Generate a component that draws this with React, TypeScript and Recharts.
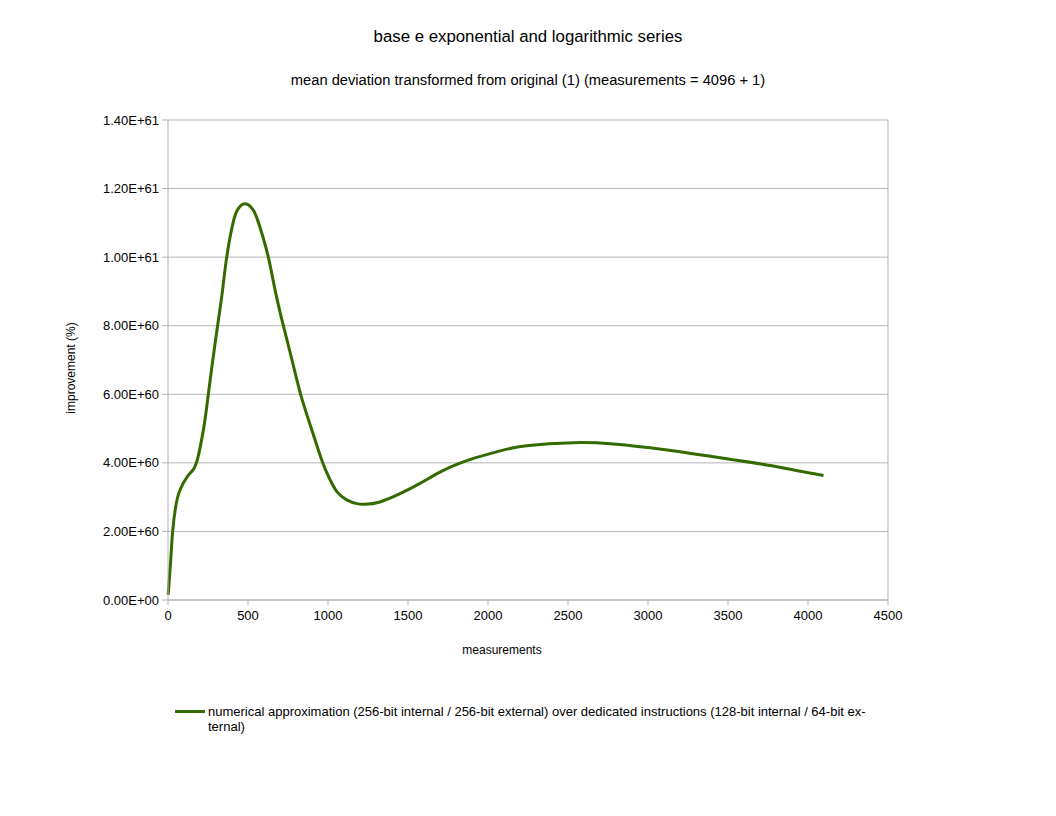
import React from "react";
import { LineChart, Line, XAxis, YAxis, CartesianGrid, ReferenceLine } from "recharts";

const measurements = [1, 17, 29, 48, 75, 121, 160, 185, 210, 231, 252, 280, 310, 340, 367, 408, 440, 481, 533, 575, 627, 671, 721, 775, 829, 896, 967, 1012, 1054, 1117, 1180, 1231, 1325, 1450, 1575, 1700, 1825, 1929, 2075, 2242, 2533, 2783, 3096, 3408, 3742, 4097];
// improvement in units of 1E+60 %
const improvementE60 = [0.15, 1.17, 2.0, 2.72, 3.21, 3.6, 3.82, 4.12, 4.67, 5.25, 6.0, 7.0, 8.0, 9.0, 10.0, 11.03, 11.42, 11.56, 11.37, 10.87, 10.0, 9.0, 8.0, 7.0, 6.0, 5.0, 4.0, 3.52, 3.17, 2.92, 2.81, 2.79, 2.86, 3.1, 3.4, 3.73, 3.99, 4.16, 4.35, 4.5, 4.59, 4.55, 4.39, 4.18, 3.94, 3.63];
const xTicks = [0, 500, 1000, 1500, 2000, 2500, 3000, 3500, 4000, 4500];
const yTicks = [0, 2, 4, 6, 8, 10, 12, 14];

const seriesName = "numerical approximation (256-bit internal / 256-bit external) over dedicated instructions (128-bit internal / 64-bit ex-";
const seriesName2 = "ternal)";

const data = measurements.map((m, i) => ({ m, v: improvementE60[i] }));

const fmtY = (v: number) => (v === 0 ? "0.00E+00" : (v * 1e60).toExponential(2).toUpperCase());

const FONT = "'Liberation Sans', Arial, sans-serif";
const LINE_COLOR = "#356a00";

export default function App() {
  return (
    <div style={{ position: "absolute", left: 0, top: 0, width: 1056, height: 816, background: "#fff", fontFamily: FONT }}>
      <LineChart width={1056} height={816} data={data} margin={{ top: 120, right: 168, bottom: 186, left: 68 }}>
        <CartesianGrid vertical={false} stroke="#b3b3b3" strokeWidth={1} />
        <ReferenceLine x={4500} stroke="#b3b3b3" strokeWidth={1} ifOverflow="extendDomain" />
        <XAxis
          dataKey="m"
          type="number"
          domain={[0, 4500]}
          ticks={xTicks}
          height={30}
          stroke="#b3b3b3"
          tickSize={5}
          tickMargin={6}
          tick={{ fill: "#000", fontSize: 13, fontFamily: FONT }}
          interval={0}
        />
        <YAxis
          type="number"
          domain={[0, 14]}
          ticks={yTicks}
          width={100}
          stroke="#b3b3b3"
          tickSize={6}
          tickMargin={3}
          tickFormatter={fmtY}
          tick={{ fill: "#000", fontSize: 13, fontFamily: FONT }}
          interval={0}
        />
        <Line
          type="natural"
          dataKey="v"
          stroke={LINE_COLOR}
          strokeWidth={3}
          dot={false}
          isAnimationActive={false}
        />
      </LineChart>
      <div style={{ position: "absolute", left: 0, width: 1056, top: 27, textAlign: "center", fontSize: 16.8, color: "#000" }}>
        base e exponential and logarithmic series
      </div>
      <div style={{ position: "absolute", left: 0, width: 1056, top: 72, textAlign: "center", fontSize: 14.7, color: "#000" }}>
        mean deviation transformed from original (1) (measurements = 4096 + 1)
      </div>
      <div style={{ position: "absolute", left: 402, width: 200, top: 643, textAlign: "center", fontSize: 12, color: "#000" }}>
        measurements
      </div>
      <div
        style={{
          position: "absolute",
          left: 71,
          top: 368,
          transform: "translate(-50%, -50%) rotate(-90deg)",
          fontSize: 12,
          whiteSpace: "nowrap",
          color: "#000",
        }}
      >
        improvement (%)
      </div>
      <div style={{ position: "absolute", left: 175, top: 710, width: 30, height: 3, background: LINE_COLOR }} />
      <div style={{ position: "absolute", left: 208, top: 704, width: 700, fontSize: 13, lineHeight: "15px", color: "#000", whiteSpace: "nowrap" }}>
        {seriesName}
        <br />
        {seriesName2}
      </div>
    </div>
  );
}
